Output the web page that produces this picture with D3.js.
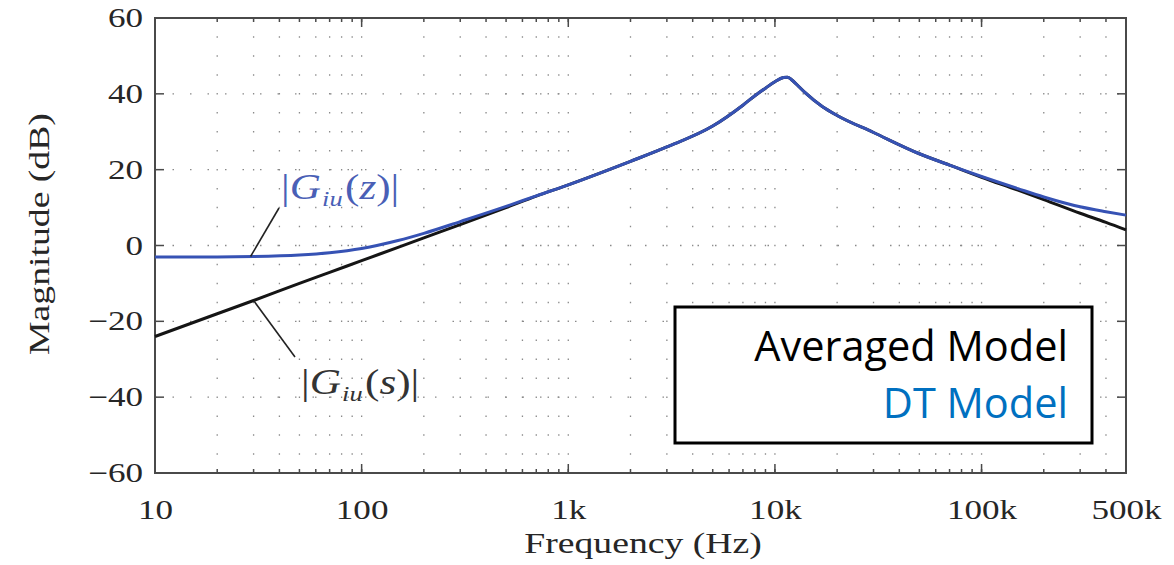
<!DOCTYPE html>
<html>
<head>
<meta charset="utf-8">
<script src="https://cdnjs.cloudflare.com/ajax/libs/d3/7.8.5/d3.min.js"></script>
<style>
  body { margin: 0; background: #fff; }
  svg { display: block; }
</style>
</head>
<body>
<div id="chart"></div>
<script>
// values
const freqHz = [10, 20, 30, 50, 70, 100, 150, 200, 300, 500, 700, 1000, 2000, 3000, 5000, 7000, 8000,
                9000, 10000, 11000, 11500, 12000, 13000, 14000, 17000, 20000, 30000, 50000, 70000,
                100000, 150000, 200000, 300000, 400000, 500000]
const avgDb = [-24, -18, -14.5, -10, -7.1, -4, -0.5, 2, 5.5, 10, 13, 16, 22.2, 26, 31.5, 37, 39.5,
               41.5, 43.2, 44.3, 44.4, 43.8, 42, 40.3, 36.6, 34.3, 29.8, 24.2, 21.2,
               18, 14.6, 12.1, 8.5, 6.1, 4.1]
const dtDb = [-3, -3, -2.9, -2.5, -1.9, -0.8, 1.3, 3.2, 6.3, 10.3, 13.1, 16, 22.2, 26, 31.5, 37, 39.5,
              41.5, 43.2, 44.3, 44.4, 43.8, 42, 40.3, 36.6, 34.3, 29.8, 24.2, 21.2,
              18.2, 15, 12.8, 10.2, 8.9, 8]

const xTicks = [10, 100, 1000, 10000, 100000, 500000]
const xTickLabels = ["10", "100", "1k", "10k", "100k", "500k"]
const yTicks = [-60, -40, -20, 0, 20, 40, 60]
const legendLabels = ["Averaged Model", "DT Model"]

const width = 1174
const height = 565
const margin = { left: 155, right: 48, top: 18, bottom: 92 }
const serif = "'Liberation Serif', 'Times New Roman', serif"
const stretch = 1.3

const svg = d3.select("#chart")
  .append("svg")
    .attr("width", width)
    .attr("height", height)

const xScale = d3.scaleLog()
  .domain([10, 500000])
  .range([margin.left, width - margin.right])

const yScale = d3.scaleLinear()
  .domain([-60, 60])
  .range([height - margin.bottom, margin.top])

const x0 = margin.left, x1 = width - margin.right
const y0 = height - margin.bottom, y1 = margin.top

// minor log frequencies for grid and small ticks
const minorFreqs = []
for (let e = 1; e <= 5; e++) {
  for (let m = 1; m <= 9; m++) {
    const f = m * Math.pow(10, e)
    if (f > 10 && f < 500000) minorFreqs.push(f)
  }
}

// grid (dotted)
const dotGap = yScale(0) - yScale(5)
const grid = svg.append("g").attr("class", "grid")
grid.selectAll("line.v")
  .data(minorFreqs).enter()
  .append("line")
    .attr("class", "v")
    .attr("x1", d => xScale(d)).attr("x2", d => xScale(d))
    .attr("y1", y1).attr("y2", y0)
    .attr("stroke", "#8a8a8a")
    .attr("stroke-width", 1.3)
    .attr("stroke-dasharray", "1.5," + (dotGap - 1.5))
    .attr("stroke-dashoffset", -dotGap + 0.75)

grid.selectAll("line.h")
  .data(yTicks.filter(d => d > -60 && d < 60)).enter()
  .append("line")
    .attr("class", "h")
    .attr("x1", x0).attr("x2", x1)
    .attr("y1", d => yScale(d)).attr("y2", d => yScale(d))
    .attr("stroke", "#8a8a8a")
    .attr("stroke-width", 1.3)
    .attr("stroke-dasharray", "1.5,16")

// axes
const axisColor = "#4a4a4a"
const xAxis = d3.axisBottom(xScale).tickValues(xTicks).tickFormat((d, i) => xTickLabels[i]).tickSize(0).tickPadding(27)
const gx = svg.append("g")
  .attr("transform", "translate(0," + y0 + ")")
  .call(xAxis)
gx.select(".domain").remove()
gx.selectAll("text")
  .attr("font-family", serif)
  .attr("font-size", 27)
  .attr("fill", "#262626")
  .attr("transform", "scale(" + stretch + ",1)")

const yAxis = d3.axisLeft(yScale).tickValues(yTicks).tickFormat(d => d < 0 ? "\u2212" + Math.abs(d) : d).tickSize(0).tickPadding(10)
const gy = svg.append("g")
  .attr("transform", "translate(" + x0 + ",0)")
  .call(yAxis)
gy.select(".domain").remove()
gy.selectAll("text")
  .attr("font-family", serif)
  .attr("font-size", 27)
  .attr("fill", "#262626")
  .attr("transform", "scale(" + stretch + ",1)")
  .attr("x", -12 / stretch)

// inward ticks on all four sides
const ticks = svg.append("g").attr("stroke", axisColor).attr("stroke-width", 1.5)
const xMajor = [100, 1000, 10000, 100000]
ticks.selectAll("line.bmin").data(minorFreqs).enter().append("line")
  .attr("x1", d => xScale(d)).attr("x2", d => xScale(d))
  .attr("y1", y0).attr("y2", y0 - 4)
ticks.selectAll("line.tmin").data(minorFreqs).enter().append("line")
  .attr("x1", d => xScale(d)).attr("x2", d => xScale(d))
  .attr("y1", y1).attr("y2", y1 + 4)
ticks.selectAll("line.bmaj").data(xMajor).enter().append("line")
  .attr("x1", d => xScale(d)).attr("x2", d => xScale(d))
  .attr("y1", y0).attr("y2", y0 - 9)
ticks.selectAll("line.tmaj").data(xMajor).enter().append("line")
  .attr("x1", d => xScale(d)).attr("x2", d => xScale(d))
  .attr("y1", y1).attr("y2", y1 + 9)
ticks.selectAll("line.l").data(yTicks).enter().append("line")
  .attr("x1", x0).attr("x2", x0 + 9)
  .attr("y1", d => yScale(d)).attr("y2", d => yScale(d))
ticks.selectAll("line.r").data(yTicks).enter().append("line")
  .attr("x1", x1).attr("x2", x1 - 9)
  .attr("y1", d => yScale(d)).attr("y2", d => yScale(d))

// frame
svg.append("rect")
  .attr("x", x0).attr("y", y1)
  .attr("width", x1 - x0).attr("height", y0 - y1)
  .attr("fill", "none")
  .attr("stroke", axisColor)
  .attr("stroke-width", 2)

// axis titles
svg.append("text")
  .text("Frequency (Hz)")
    .attr("font-family", serif)
    .attr("font-size", 29)
    .attr("fill", "#262626")
    .attr("text-anchor", "middle")
    .attr("transform", "translate(" + 643 + "," + 553 + ")scale(" + stretch + ",1)")

svg.append("text")
  .text("Magnitude (dB)")
    .attr("font-family", serif)
    .attr("font-size", 29)
    .attr("fill", "#262626")
    .attr("text-anchor", "middle")
    .attr("transform", "translate(" + 49 + "," + 234 + ")rotate(-90)scale(" + stretch + ",1)")

// curves
const line = d3.line()
  .x((d, i) => xScale(freqHz[i]))
  .y(d => yScale(d))
  .curve(d3.curveMonotoneX)

svg.append("path")
  .datum(avgDb)
    .attr("d", line)
    .attr("fill", "none")
    .attr("stroke", "#151515")
    .attr("stroke-width", 3)

svg.append("path")
  .datum(dtDb)
    .attr("d", line)
    .attr("fill", "none")
    .attr("stroke", "#3652b4")
    .attr("stroke-width", 3)

// annotations
function addLabel(x, y, arg, color) {
  const t = svg.append("text")
    .attr("font-family", serif)
    .attr("font-size", 36)
    .attr("fill", color)
    .attr("transform", "translate(" + x + "," + y + ")scale(1.2,1)")
  t.append("tspan").text("|")
  t.append("tspan").text("G").attr("font-style", "italic")
  t.append("tspan").text("iu").attr("font-style", "italic").attr("font-size", 22).attr("dy", 7).attr("dx", 1)
  t.append("tspan").text("(").attr("dy", -7).attr("dx", 2)
  t.append("tspan").text(arg).attr("font-style", "italic")
  t.append("tspan").text(")|")
}
addLabel(281, 199, "z", "#4a5fb6")
addLabel(301, 394, "s", "#333")

svg.append("line")
  .attr("x1", xScale(29)).attr("y1", yScale(dtDb[2]))
  .attr("x2", 279).attr("y2", 208)
  .attr("stroke", "#222").attr("stroke-width", 1.6)
svg.append("line")
  .attr("x1", xScale(30)).attr("y1", yScale(avgDb[2]))
  .attr("x2", 295).attr("y2", 357)
  .attr("stroke", "#222").attr("stroke-width", 1.6)

// legend box
const legend = svg.append("g").attr("class", "legend")
legend.append("rect")
  .attr("x", 675).attr("y", 307)
  .attr("width", 417).attr("height", 136)
  .attr("fill", "#fff")
  .attr("stroke", "#000")
  .attr("stroke-width", 3)
legend.selectAll("text")
  .data(legendLabels).enter()
  .append("text")
    .text(d => d)
    .attr("x", 1068)
    .attr("y", (d, i) => 361 + i * 57)
    .attr("text-anchor", "end")
    .attr("font-family", "'Open Sans', sans-serif")
    .attr("font-size", 41.5)
    .attr("fill", (d, i) => i === 0 ? "#000" : "#0070c0")
</script>
</body>
</html>
